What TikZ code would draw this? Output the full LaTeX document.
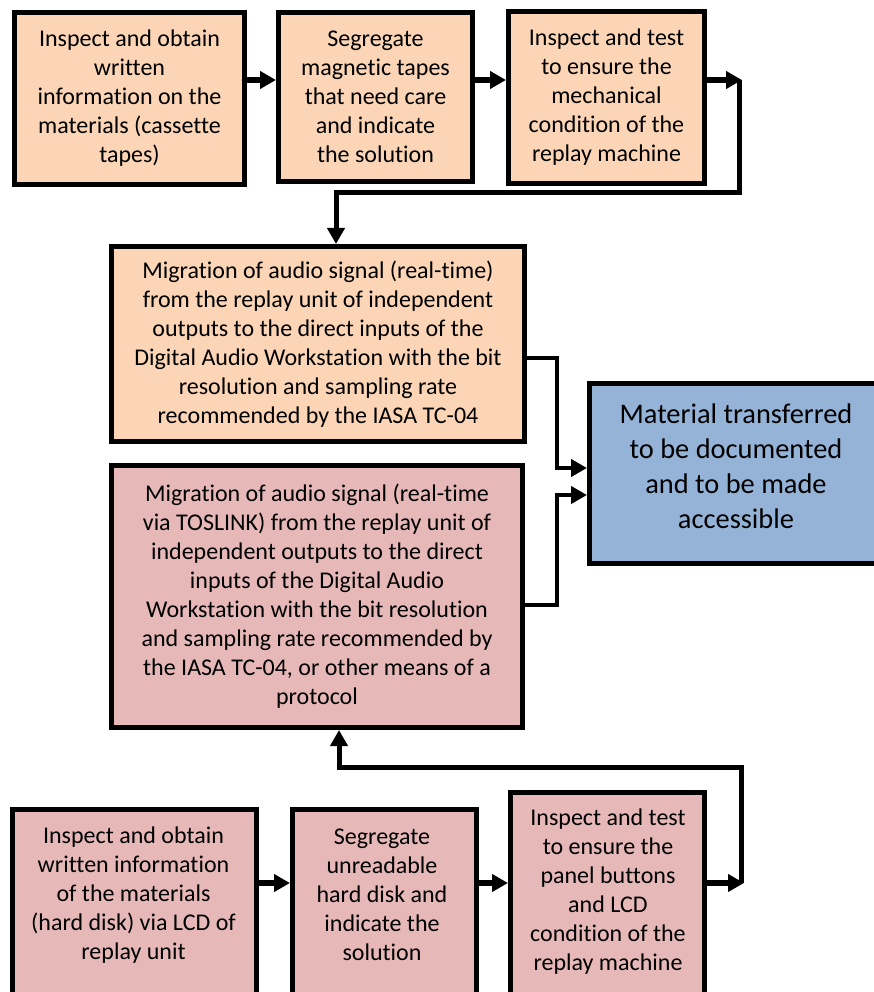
\documentclass[tikz,border=0pt]{standalone}
\usepackage{fontspec}
\setmainfont{Carlito}[Ligatures={NoCommon,NoContextual,NoRare}]
\usetikzlibrary{arrows.meta}
\definecolor{orng}{HTML}{FBD5B5}
\definecolor{pnk}{HTML}{E6B9B8}
\definecolor{blu}{HTML}{95B3D7}
\begin{document}
\begin{tikzpicture}[x=1pt,y=-1pt,
  box/.style={draw=black, line width=5pt, inner sep=0pt, align=center,
    font=\fontsize{24}{29}\selectfont},
  orangebox/.style={box, fill=orng},
  pinkbox/.style={box, fill=pnk},
  bluebox/.style={box, fill=blu},
  txt/.style={inner sep=0pt, align=center, font=\fontsize{24}{29}\selectfont},
  bigtxt/.style={inner sep=0pt, align=center, font=\fontsize{28.4}{35}\selectfont},
  flow/.style={line width=5.5pt, -{Triangle[length=16pt,width=17pt]}},
  link/.style={line width=5pt},
  thinflow/.style={line width=4.5pt, -{Triangle[length=16pt,width=17pt]}},
  thinlink/.style={line width=4.5pt}]
\useasboundingbox (0,0) rectangle (874,992);
\clip (0,0) rectangle (874,992);
\fill[white] (0,0) rectangle (874,992);

% top row
\node[orangebox, minimum width=230pt, minimum height=172pt] (a1) at (129.5,98.5)
  {Inspect and obtain\\ written\\ information on the\\ materials (cassette\\ tapes)};
\node[orangebox, minimum width=194pt, minimum height=169pt] (a2) at (375.5,97)
  {Segregate\\ magnetic tapes\\ that need care\\ and indicate\\ the solution};
\node[orangebox, minimum width=196pt, minimum height=172pt] (a3) at (606.5,97.5)
  {Inspect and test\\ to ensure the\\ mechanical\\ condition of the\\ replay machine};

% middle
\node[orangebox, minimum width=413pt, minimum height=195pt] (b1) at (318,344)
  {Migration of audio signal (real-time)\\ from the replay unit of independent\\ outputs to the direct inputs of the\\ Digital Audio Workstation with the bit\\ resolution and sampling rate\\ recommended by the IASA TC-04};
\node[pinkbox, minimum width=411pt, minimum height=262pt] (b2) at (317,596.5)
  {Migration of audio signal (real-time\\ via TOSLINK) from the replay unit of\\ independent outputs to the direct\\ inputs of the Digital Audio\\ Workstation with the bit resolution\\ and sampling rate recommended by\\ the IASA TC-04, or other means of a\\ protocol};

\node[bluebox, minimum width=308pt, minimum height=180pt] (c) at (743.5,473.5) {};
\node[bigtxt] (ct) at (736,466)
  {Material transferred\\ to be documented\\ and to be made\\ accessible};

% bottom row
\node[pinkbox, minimum width=244pt, minimum height=208pt] (c1) at (134.5,913.5) {};
\node[txt] (c1t) at (133.5,895)
  {Inspect and obtain\\ written information\\ of the materials\\ (hard disk) via LCD of\\ replay unit};
\node[pinkbox, minimum width=184pt, minimum height=208pt] (c2) at (384.5,913.5) {};
\node[txt] (c2t) at (382,895)
  {Segregate\\ unreadable\\ hard disk and\\ indicate the\\ solution};
\node[pinkbox, minimum width=194pt, minimum height=225pt] (c3) at (607.5,905) {};
\node[txt] (c3t) at (608,892)
  {Inspect and test\\ to ensure the\\ panel buttons\\ and LCD\\ condition of the\\ replay machine};

% coordinates for connectors
\coordinate (ytop) at (0,80);
\coordinate (k1) at (742,80);
\coordinate (k1a) at (739,80);
\coordinate (k1b) at (739,193);
\coordinate (k1c) at (336,193);
\coordinate (yb1) at (0,358);
\coordinate (yb2) at (0,605);
\coordinate (m1) at (557,358);
\coordinate (m1b) at (557,468);
\coordinate (m2) at (557,605);
\coordinate (m2b) at (557,495);
\coordinate (ybot) at (0,883);
\coordinate (k2) at (744,883);
\coordinate (k2a) at (741,883);
\coordinate (k2b) at (741,767);
\coordinate (k2c) at (339,767);

% top row arrows
\draw[flow] (a1.east |- ytop) -- (a2.west |- ytop);
\draw[flow] (a2.east |- ytop) -- (a3.west |- ytop);
\draw[flow] (a3.east |- ytop) -- (k1);
\draw[link, -{Triangle[length=16pt,width=17pt]}] (k1a) -- (k1b) -- (k1c) -- (b1.north -| k1c);

% to the blue box
\draw[thinflow] (b1.east |- yb1) -- (m1) -- (m1b) -- (c.west |- m1b);
\draw[thinflow] (b2.east |- yb2) -- (m2) -- (m2b) -- (c.west |- m2b);

% bottom row arrows
\draw[flow] (c1.east |- ybot) -- (c2.west |- ybot);
\draw[flow] (c2.east |- ybot) -- (c3.west |- ybot);
\draw[flow] (c3.east |- ybot) -- (k2);
\draw[link, -{Triangle[length=16pt,width=17pt]}] (k2a) -- (k2b) -- (k2c) -- (b2.south -| k2c);
\end{tikzpicture}
\end{document}
